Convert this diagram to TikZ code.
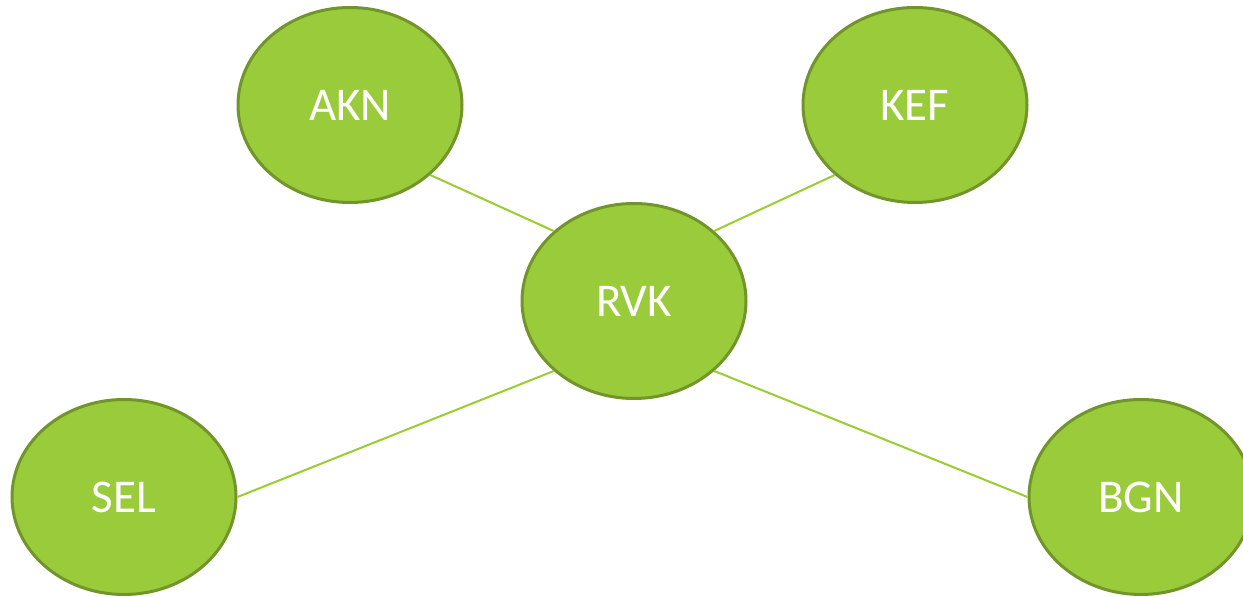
\documentclass[tikz,border=0pt]{standalone}
\usepackage{fontspec}
\setmainfont{Carlito}
\usepackage{xcolor}
\usetikzlibrary{shapes.geometric}
\definecolor{nodegreen}{HTML}{9ACB3A}
\definecolor{nodeborder}{HTML}{71952A}
\definecolor{linkgreen}{HTML}{9ACD32}
\tikzstyle{airport}=[ellipse,draw=nodeborder,line width=3pt,fill=nodegreen,
  minimum width=224pt,minimum height=195pt,inner sep=0pt,
  text=white,font=\fontsize{47}{56}\selectfont]
\tikzstyle{link}=[draw=linkgreen,line width=2pt]
\begin{document}
\begin{tikzpicture}[x=1pt,y=1pt]
	\useasboundingbox (0,0) rectangle (1243,597);
	\node[airport] (akn) at (350,492) {AKN};
	\node[airport] (kef) at (915,492) {KEF};
	\node[airport] (rvk) at (634,296) {RVK};
	\node[airport] (sel) at (124,100) {SEL};
	\node[airport] (bgn) at (1141,100) {BGN};
	\draw[link] (akn.south east) -- (rvk.north west);
	\draw[link] (kef.south west) -- (rvk.north east);
	\draw[link] (sel.east) -- (rvk.south west);
	\draw[link] (bgn.west) -- (rvk.south east);
\end{tikzpicture}
\end{document}
